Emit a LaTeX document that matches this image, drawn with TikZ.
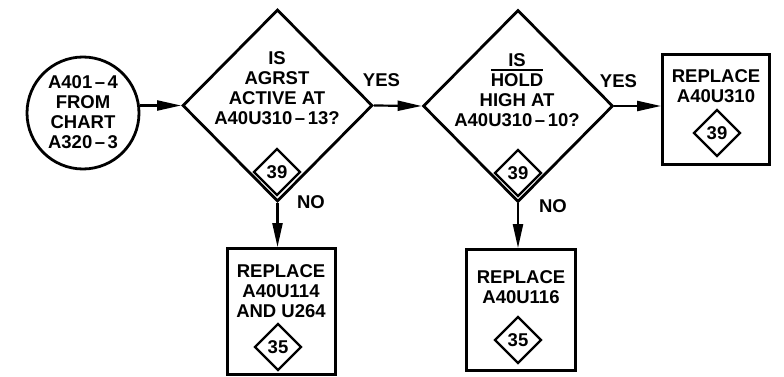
\documentclass[tikz,border=0pt]{standalone}
\usepackage{fontspec}
\setmainfont{Liberation Sans}
\usetikzlibrary{shapes.geometric,arrows.meta}
\newcommand\ovbar[1]{\leavevmode\vbox{\hrule height 1.8pt\kern 2.6pt\hbox{#1}}}
\newcommand\dsh{\kern2.5pt--\kern2.5pt}
\tikzset{
  txt/.style={font=\bfseries\fontsize{18.5}{20}\selectfont, align=center, inner sep=0pt},
  bigdia/.style={draw, diamond, line width=2.8pt, minimum width=190pt, minimum height=192pt, inner sep=0pt},
  smalldia/.style={draw, diamond, line width=2.3pt, minimum width=47pt, minimum height=47pt, inner sep=0pt,
     font=\bfseries\fontsize{18.5}{20}\selectfont},
  actbox/.style={draw, rectangle, line width=2.8pt, inner sep=0pt},
  startcirc/.style={draw, circle, line width=2.8pt, minimum size=112pt, inner sep=0pt},
  arr/.style={line width=2.2pt, -{Triangle[length=24pt,width=10pt]}},
}
\begin{document}
\begin{tikzpicture}[x=1pt,y=-1pt]
\useasboundingbox (0,0) rectangle (784,377);
% shapes
\node[startcirc] (circ) at (83,113) {};
\node[bigdia] (d1) at (277.5,105.5) {};
\node[bigdia] (d2) at (518,106) {};
\node[actbox, minimum width=107pt, minimum height=110pt] (rb) at (716,109.5) {};
\node[actbox, minimum width=108pt, minimum height=126pt] (b1) at (281.5,311.5) {};
\node[actbox, minimum width=109pt, minimum height=121pt] (b2) at (521,310) {};
% texts
\node[txt] (tcirc) at (83,112.5) {A401\dsh4\\FROM\\CHART\\A320\dsh3};
\node[txt] (td1) at (277,88.5) {IS\\AGRST\\ACTIVE AT\\A40U310\dsh13?};
\node[txt] (td2) at (517,90) {IS\\\ovbar{HOLD}\\HIGH AT\\A40U310\dsh10?};
\node[txt] (trb) at (716,86.5) {REPLACE\\A40U310};
\node[txt] (tb1) at (281,291) {REPLACE\\A40U114\\AND U264};
\node[txt] (tb2) at (521,287.5) {REPLACE\\A40U116};
% reference diamonds
\node[smalldia] (s1) at (277,172) {39};
\node[smalldia] (s2) at (518,173) {39};
\node[smalldia] (s3) at (717,133) {39};
\node[smalldia] (s4) at (278,347) {35};
\node[smalldia] (s5) at (518,340) {35};
% labels
\node[txt] (yes1) at (381.5,80) {YES};
\node[txt] (yes2) at (618.5,81) {YES};
\node[txt] (no1) at (311,202) {NO};
\node[txt] (no2) at (553,206) {NO};
% connectors
\draw[arr] (circ.east |- d1.west) -- (d1.west);
\draw[arr] (d1.east) -- (d2.west);
\draw[arr] (d2.east) -- (d2.east -| rb.west);
\draw[arr] (d1.south) -- (d1.south |- b1.north);
\draw[arr] (d2.south) -- (d2.south |- b2.north);
\end{tikzpicture}
\end{document}
